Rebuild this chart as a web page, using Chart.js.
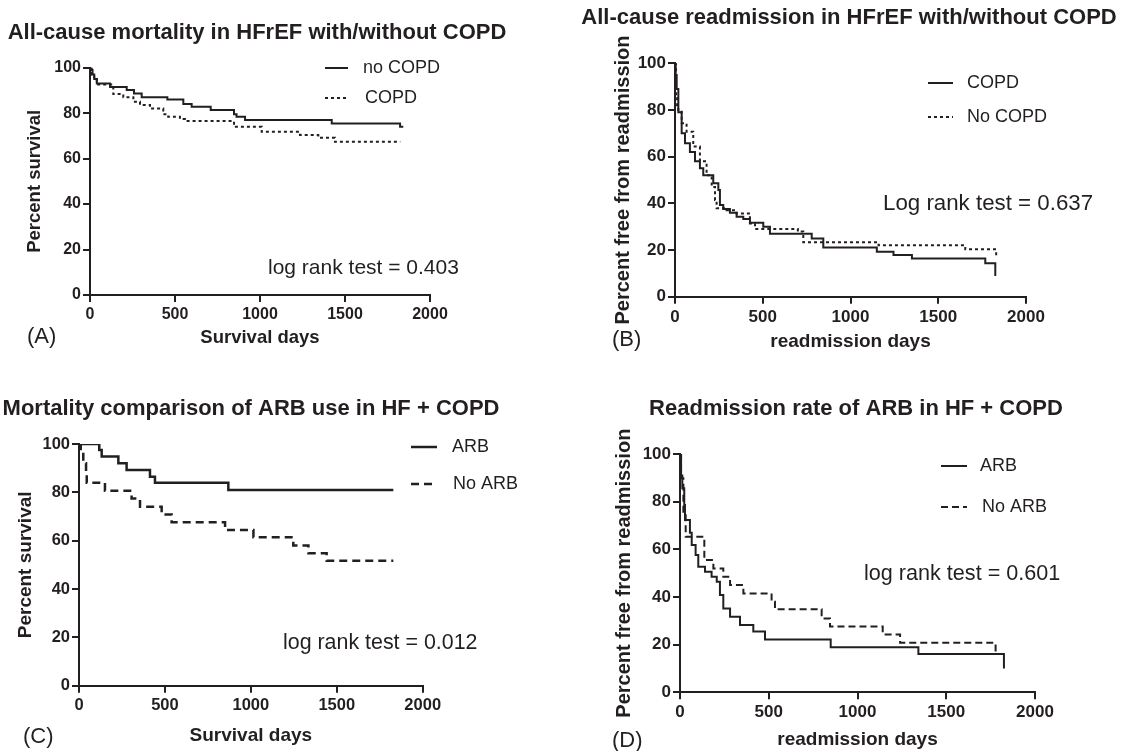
<!DOCTYPE html>
<html>
<head>
<meta charset="utf-8">
<script src="https://cdn.jsdelivr.net/npm/chart.js@4.4.1/dist/chart.umd.min.js"></script>
<style>
  body { margin: 0; background: #fff; width: 1130px; height: 751px; position: relative; overflow: hidden; }
  canvas { position: absolute; }
</style>
</head>
<body>
<canvas id="chartA"></canvas>
<canvas id="chartB"></canvas>
<canvas id="chartC"></canvas>
<canvas id="chartD"></canvas>
<script>
// ---- data (days, percent) ----
// (A) all-cause mortality, HFrEF with/without COPD
const aNoCopdDays = [0, 5, 15, 25, 40, 118, 216, 259, 304, 455, 549, 598, 710, 847, 862, 912, 1422, 1824, 1843];
const aNoCopdPct  = [100, 99, 97, 95, 93, 91.5, 90.2, 88.7, 87, 86, 84, 82.8, 81.4, 79.5, 78.4, 77, 75.5, 74, 74];
const aCopdDays = [0, 10, 25, 40, 137, 196, 255, 294, 353, 431, 460, 529, 559, 847, 1010, 1235, 1343, 1441, 1825];
const aCopdPct  = [100, 97, 95, 92.6, 88.4, 87, 85, 83.6, 82, 79.5, 78.4, 77.4, 76.5, 74, 71.8, 70.4, 69.2, 67.4, 67.4];

// (B) all-cause readmission, HFrEF with/without COPD
const bCopdDays = [0, 4, 9.5, 19, 38, 57, 85, 114, 142, 161, 218, 247, 256, 275, 313, 351, 389, 427, 503, 541, 779, 845, 1150, 1245, 1350, 1768, 1825];
const bCopdPct  = [100, 95, 89, 79, 70, 65.7, 62, 58, 55, 52, 48.6, 45.7, 39.3, 37.6, 36, 34.3, 33.3, 31.7, 30, 27, 24.9, 21.1, 19.3, 17.9, 16.4, 14.3, 8.9];
const bNoCopdDays = [0, 6, 12, 19, 38, 66, 104, 142, 180, 209, 228, 237, 294, 351, 427, 456, 700, 731, 1160, 1654, 1830];
const bNoCopdPct  = [100, 86, 82, 80, 74.3, 70.7, 64.3, 58, 52, 47, 41.4, 37.9, 37, 35.7, 31.4, 29, 27.9, 23.3, 22, 20.3, 16.5];

// (C) mortality, ARB use in HF + COPD
const cArbDays = [0, 118, 132, 229, 277, 413, 442, 869, 1829];
const cArbPct  = [100, 97.5, 94.8, 92, 89.2, 86.5, 84, 81, 81];
const cNoArbDays = [0, 10, 25, 41, 45, 151, 306, 355, 481, 539, 850, 1015, 1247, 1335, 1441, 1829];
const cNoArbPct  = [100, 96.8, 92, 87.9, 84, 80.7, 77.4, 74, 70.8, 67.6, 64.4, 61.4, 58, 54.8, 51.7, 51.7];

// (D) readmission, ARB in HF + COPD
const dArbDays = [0, 6, 13, 24, 28, 56, 66, 88, 103, 141, 178, 207, 225, 244, 282, 338, 413, 479, 849, 1343, 1825];
const dArbPct  = [100, 91, 85.6, 78.6, 72.3, 67, 61.8, 57.6, 52.7, 50.6, 48.5, 46.4, 40.8, 35.2, 31.7, 28.2, 25.5, 22.2, 18.9, 16.1, 10];
const dNoArbDays = [0, 6, 19, 32, 137, 188, 244, 282, 357, 516, 535, 798, 845, 1142, 1240, 1778];
const dNoArbPct  = [100, 89.8, 75.8, 65.3, 55.5, 52, 48.5, 45, 41.5, 38, 34.8, 31, 27.6, 24.3, 20.8, 16];

const xTickValues = [0, 500, 1000, 1500, 2000];
const yTickValues = [0, 20, 40, 60, 80, 100];

const FONT = "'Liberation Sans', Arial, Helvetica, sans-serif";
const INK = '#231f20';

// draws panel title, panel tag, log rank note and the little legend
const panelText = {
  id: 'panelText',
  afterDraw(chart, args, opts) {
    const ctx = chart.ctx;
    const ox = opts.origin[0], oy = opts.origin[1];
    ctx.save();
    ctx.fillStyle = INK;
    ctx.strokeStyle = INK;
    ctx.textBaseline = 'middle';

    ctx.font = 'bold 22px ' + FONT;
    ctx.textAlign = 'center';
    ctx.fillText(opts.title.text, opts.title.x - ox, opts.title.y - oy);

    ctx.textAlign = 'left';
    ctx.font = '22px ' + FONT;
    ctx.fillText(opts.tag.text, opts.tag.x - ox, opts.tag.y - oy);

    ctx.font = opts.note.size + 'px ' + FONT;
    ctx.fillText(opts.note.text, opts.note.x - ox, opts.note.y - oy);

    ctx.font = '18px ' + FONT;
    chart.data.datasets.forEach((ds, i) => {
      const item = opts.legend[i];
      ctx.beginPath();
      ctx.lineWidth = ds.borderWidth;
      ctx.setLineDash(ds.borderDash || []);
      ctx.moveTo(item.x1 - ox, item.y - oy);
      ctx.lineTo(item.x2 - ox, item.y - oy);
      ctx.stroke();
      ctx.setLineDash([]);
      ctx.fillText(ds.label, item.tx - ox, item.y - oy);
    });
    ctx.restore();
  }
};
Chart.register(panelText);

function toPoints(days, pct) {
  return days.map((d, i) => ({ x: d, y: pct[i] }));
}

function buildPanel(id, box, area, cfg) {
  const [bx, by, bw, bh] = box;
  const canvas = document.getElementById(id);
  canvas.style.left = bx + 'px';
  canvas.style.top = by + 'px';
  canvas.width = bw;
  canvas.height = bh;

  const left = area[0] - bx, top = area[1] - by, right = area[2] - bx, bottom = area[3] - by;
  const xH = 66;
  const yLh = cfg.yTitleSize * 1.2;
  const xLh = cfg.xTitleSize * 1.2;
  const yTitlePad = (cfg.yTitleX - bx) - yLh / 2;
  const xTitlePad = (bottom + xH) - (cfg.xTitleY - by) - xLh / 2;

  const tickFont = { family: FONT, size: cfg.tickSize, weight: 'bold' };
  const gridCfg = { drawOnChartArea: false, drawTicks: true, tickLength: 7, color: INK, lineWidth: 2 };
  const borderCfg = { display: true, color: INK, width: 2 };

  return new Chart(canvas, {
    type: 'line',
    data: {
      datasets: cfg.series.map(s => ({
        label: s.label,
        data: toPoints(s.days, s.pct),
        stepped: true,
        borderColor: INK,
        borderWidth: s.width,
        borderDash: s.dash,
        pointRadius: 0,
        fill: false
      }))
    },
    options: {
      responsive: false,
      animation: false,
      layout: { padding: { left: 0, top: top, right: bw - right, bottom: bh - bottom - xH } },
      plugins: {
        legend: { display: false },
        tooltip: { enabled: false },
        panelText: {
          origin: [bx, by],
          title: cfg.title,
          tag: cfg.tag,
          note: cfg.note,
          legend: cfg.legend
        }
      },
      scales: {
        x: {
          type: 'linear',
          min: 0,
          max: 2000,
          afterFit: s => { s.height = xH; },
          afterBuildTicks: s => { s.ticks = xTickValues.map(v => ({ value: v })); },
          ticks: { font: tickFont, color: INK, padding: 3, maxRotation: 0, callback: v => String(v) },
          grid: gridCfg,
          border: borderCfg,
          title: {
            display: true, text: cfg.xTitle, color: INK,
            font: { family: FONT, size: cfg.xTitleSize, weight: 'bold', lineHeight: 1.2 },
            padding: { top: 0, bottom: xTitlePad }
          }
        },
        y: {
          min: 0,
          max: 100,
          afterFit: s => { s.width = left; },
          afterBuildTicks: s => { s.ticks = yTickValues.map(v => ({ value: v })); },
          ticks: { font: tickFont, color: INK, padding: 2, callback: v => String(v) },
          grid: gridCfg,
          border: borderCfg,
          title: {
            display: true, text: cfg.yTitle, color: INK,
            font: { family: FONT, size: cfg.yTitleSize, weight: 'bold', lineHeight: 1.2 },
            padding: { top: yTitlePad, bottom: 0 }
          }
        }
      }
    }
  });
}

buildPanel('chartA', [0, 0, 565, 372], [90, 67.7, 430, 295], {
  series: [
    { label: 'no COPD', days: aNoCopdDays, pct: aNoCopdPct, width: 2, dash: [] },
    { label: 'COPD', days: aCopdDays, pct: aCopdPct, width: 2, dash: [3, 3] }
  ],
  title: { text: 'All-cause mortality in HFrEF with/without COPD', x: 257, y: 33 },
  tag: { text: '(A)', x: 27, y: 337 },
  note: { text: 'log rank test = 0.403', x: 268, y: 268, size: 21 },
  legend: [{ x1: 325, x2: 348, y: 68, tx: 363 }, { x1: 325, x2: 348, y: 98, tx: 365 }],
  tickSize: 16, xTitleSize: 18.5, yTitleSize: 18.5,
  xTitle: 'Survival days', xTitleY: 338,
  yTitle: 'Percent survival', yTitleX: 35
});

buildPanel('chartB', [565, 0, 565, 372], [675, 63.3, 1026, 296.7], {
  series: [
    { label: 'COPD', days: bCopdDays, pct: bCopdPct, width: 2, dash: [] },
    { label: 'No COPD', days: bNoCopdDays, pct: bNoCopdPct, width: 2, dash: [3, 3] }
  ],
  title: { text: 'All-cause readmission in HFrEF with/without COPD', x: 849, y: 18 },
  tag: { text: '(B)', x: 612, y: 340 },
  note: { text: 'Log rank test = 0.637', x: 883, y: 204, size: 22.3 },
  legend: [{ x1: 928, x2: 953, y: 83, tx: 967 }, { x1: 928, x2: 953, y: 117, tx: 967 }],
  tickSize: 17, xTitleSize: 19, yTitleSize: 20,
  xTitle: 'readmission days', xTitleY: 342,
  yTitle: 'Percent free from readmission', yTitleX: 623
});

buildPanel('chartC', [0, 372, 565, 379], [79, 444, 422.7, 685.7], {
  series: [
    { label: 'ARB', days: cArbDays, pct: cArbPct, width: 2.5, dash: [] },
    { label: 'No ARB', days: cNoArbDays, pct: cNoArbPct, width: 2.5, dash: [8, 5] }
  ],
  title: { text: 'Mortality comparison of ARB use in HF + COPD', x: 251, y: 409 },
  tag: { text: '(C)', x: 23, y: 737 },
  note: { text: 'log rank test = 0.012', x: 283, y: 643, size: 21.4 },
  legend: [{ x1: 411, x2: 437, y: 447, tx: 452 }, { x1: 411, x2: 437, y: 484, tx: 453 }],
  tickSize: 16.5, xTitleSize: 19, yTitleSize: 19,
  xTitle: 'Survival days', xTitleY: 736,
  yTitle: 'Percent survival', yTitleX: 26
});

buildPanel('chartD', [565, 372, 565, 379], [680, 454, 1035, 692.3], {
  series: [
    { label: 'ARB', days: dArbDays, pct: dArbPct, width: 2, dash: [] },
    { label: 'No ARB', days: dNoArbDays, pct: dNoArbPct, width: 2, dash: [7, 4] }
  ],
  title: { text: 'Readmission rate of ARB in HF + COPD', x: 856, y: 409 },
  tag: { text: '(D)', x: 612, y: 741 },
  note: { text: 'log rank test = 0.601', x: 864, y: 574, size: 21.6 },
  legend: [{ x1: 941, x2: 967, y: 466, tx: 980 }, { x1: 941, x2: 967, y: 507, tx: 982 }],
  tickSize: 17, xTitleSize: 19, yTitleSize: 20,
  xTitle: 'readmission days', xTitleY: 740,
  yTitle: 'Percent free from readmission', yTitleX: 624
});
</script>
</body>
</html>
